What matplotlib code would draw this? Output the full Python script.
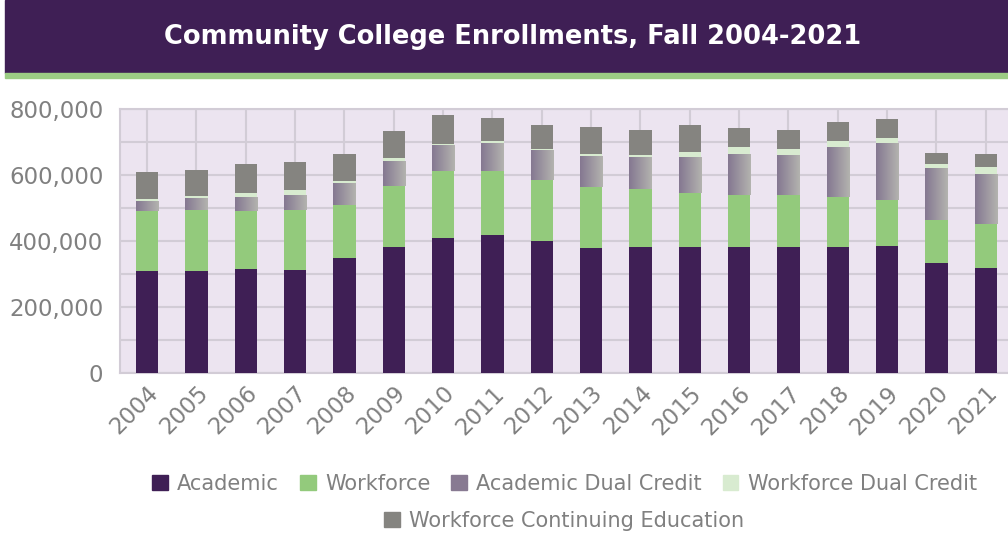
import numpy as np
import matplotlib
matplotlib.use("Agg")
import matplotlib.pyplot as plt
from matplotlib.colors import LinearSegmentedColormap
from matplotlib.patches import Patch, Rectangle
from matplotlib.ticker import FuncFormatter, MultipleLocator

plt.rcParams['font.family'] = ['DejaVu Sans']

years = [str(y) for y in range(2004, 2022)]
academic = [310000, 310000, 316000, 313000, 349000, 383000, 410000, 419000, 401000,
            380000, 383000, 383000, 383000, 383000, 383000, 386000, 334000, 319000]
workforce = [182000, 185000, 176000, 182000, 160000, 185000, 203000, 194000, 185000,
             185000, 176000, 164000, 158000, 158000, 152000, 139000, 130000, 134000]
acad_dual = [30000, 36000, 42000, 45000, 65000, 75000, 76000, 82000, 88000,
             91000, 94000, 109000, 124000, 121000, 151000, 170000, 155000, 151000]
work_dual = [6000, 6000, 12000, 16000, 9000, 9000, 6000, 9000, 6000,
             9000, 9000, 15000, 21000, 18000, 18000, 18000, 15000, 21000]
work_ce = [82000, 79000, 88000, 84000, 82000, 82000, 88000, 70000, 72000,
           82000, 76000, 82000, 58000, 58000, 58000, 58000, 33000, 39000]

c_acad = '#3f1f55'
c_work = '#93ca7c'
c_adc = '#887a92'
c_wdc = '#d8ebd0'
c_wce = '#858480'
txt = '#808080'

fig = plt.figure(figsize=(10.08, 5.35), dpi=100)

# title banner
fig.patches.append(Rectangle((0.005, 1 - 73 / 535), 0.995, 73 / 535, transform=fig.transFigure,
                             color=c_acad, zorder=0))
fig.patches.append(Rectangle((0.005, 1 - 78 / 535), 0.995, 5 / 535, transform=fig.transFigure,
                             color='#9ccc84', zorder=0))
fig.text(0.508, 1 - 37 / 535, 'Community College Enrollments, Fall 2004-2021', color='white',
         fontsize=18.5, fontweight='bold', ha='center', va='center')

ax = fig.add_axes([120 / 1008, 1 - 373.3 / 535, 1 - 120 / 1008, 264 / 535])
ax.set_facecolor('#ece4f0')
x = np.arange(len(years))
w = 0.45

b1 = np.array(academic)
b2 = b1 + np.array(workforce)
b3 = b2 + np.array(acad_dual)
b4 = b3 + np.array(work_dual)

ax.bar(x, academic, w, color=c_acad, zorder=3)
ax.bar(x, workforce, w, bottom=b1, color=c_work, zorder=3)
adc = ax.bar(x, acad_dual, w, bottom=b2, color=c_adc, zorder=3)
ax.bar(x, work_dual, w, bottom=b3, color=c_wdc, zorder=3)
ax.bar(x, work_ce, w, bottom=b4, color=c_wce, zorder=3)

# horizontal gradient on academic dual credit bars
grad = LinearSegmentedColormap.from_list('g', ['#857891', '#b3b3af'])
gimg = np.linspace(0, 1, 64).reshape(1, -1)
for p in adc:
    ax.imshow(gimg, cmap=grad, aspect='auto', zorder=3.5,
              extent=(p.get_x(), p.get_x() + p.get_width(), p.get_y(), p.get_y() + p.get_height()))

ax.set_xlim(-0.55, 17.45)
ax.set_ylim(0, 800000)
ax.yaxis.set_major_locator(MultipleLocator(200000))
ax.yaxis.set_minor_locator(MultipleLocator(100000))
ax.yaxis.set_major_formatter(FuncFormatter(lambda v, p: f'{int(v):,}'))
ax.set_xticks(x)
ax.set_xticklabels(years, rotation=45, ha='right', rotation_mode='anchor')
ax.grid(True, which='both', axis='y', color='#d2ccd6', lw=1.5, zorder=0)
ax.grid(True, which='major', axis='x', color='#d2ccd6', lw=1.5, zorder=0)
ax.tick_params(axis='y', which='both', length=0, labelsize=16.5, labelcolor=txt, pad=12)
ax.tick_params(axis='x', which='both', length=0, labelsize=16.5, labelcolor=txt, pad=6)
for s in ax.spines.values():
    s.set_color('#d2ccd6')
    s.set_linewidth(1.5)
ax.spines['right'].set_visible(False)

h1 = [Patch(color=c_acad, label='Academic'), Patch(color=c_work, label='Workforce'),
      Patch(color=c_adc, label='Academic Dual Credit'), Patch(color=c_wdc, label='Workforce Dual Credit')]
h2 = [Patch(color=c_wce, label='Workforce Continuing Education')]
kw = dict(frameon=False, fontsize=15, labelcolor=txt, handlelength=0.75, handleheight=0.75,
          handletextpad=0.45, columnspacing=1.0, borderaxespad=0)
fig.legend(handles=h1, ncol=4, loc='center', bbox_to_anchor=(0.56, 1 - 484 / 535), **kw)
fig.legend(handles=h2, ncol=1, loc='center', bbox_to_anchor=(0.56, 1 - 521 / 535), **kw)

fig.savefig('out.png', dpi=100)
